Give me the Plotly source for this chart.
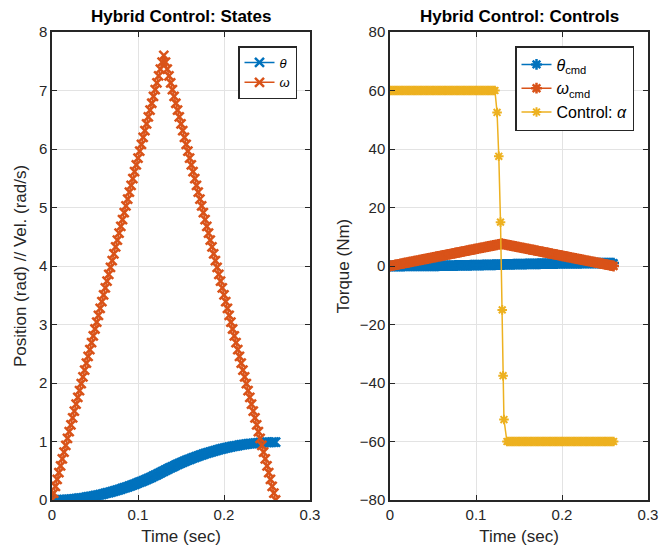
import plotly.graph_objects as go

# ---------------- data ----------------
time = [0.000, 0.002, 0.004, 0.006, 0.008, 0.010, 0.012, 0.014, 0.016, 0.018,
        0.020, 0.022, 0.024, 0.026, 0.028, 0.030, 0.032, 0.034, 0.036, 0.038,
        0.040, 0.042, 0.044, 0.046, 0.048, 0.050, 0.052, 0.054, 0.056, 0.058,
        0.060, 0.062, 0.064, 0.066, 0.068, 0.070, 0.072, 0.074, 0.076, 0.078,
        0.080, 0.082, 0.084, 0.086, 0.088, 0.090, 0.092, 0.094, 0.096, 0.098,
        0.100, 0.102, 0.104, 0.106, 0.108, 0.110, 0.112, 0.114, 0.116, 0.118,
        0.120, 0.122, 0.124, 0.126, 0.128, 0.130, 0.132, 0.134, 0.136, 0.138,
        0.140, 0.142, 0.144, 0.146, 0.148, 0.150, 0.152, 0.154, 0.156, 0.158,
        0.160, 0.162, 0.164, 0.166, 0.168, 0.170, 0.172, 0.174, 0.176, 0.178,
        0.180, 0.182, 0.184, 0.186, 0.188, 0.190, 0.192, 0.194, 0.196, 0.198,
        0.200, 0.202, 0.204, 0.206, 0.208, 0.210, 0.212, 0.214, 0.216, 0.218,
        0.220, 0.222, 0.224, 0.226, 0.228, 0.230, 0.232, 0.234, 0.236, 0.238,
        0.240, 0.242, 0.244, 0.246, 0.248, 0.250, 0.252, 0.254, 0.256, 0.258,
        0.260]

theta = [0.000, 0.000, 0.000, 0.001, 0.002, 0.003, 0.004, 0.006, 0.007, 0.009,
         0.012, 0.014, 0.017, 0.020, 0.023, 0.026, 0.030, 0.034, 0.038, 0.042,
         0.047, 0.052, 0.057, 0.062, 0.067, 0.073, 0.079, 0.085, 0.092, 0.098,
         0.105, 0.112, 0.120, 0.127, 0.135, 0.143, 0.152, 0.160, 0.169, 0.178,
         0.187, 0.197, 0.206, 0.216, 0.226, 0.237, 0.247, 0.258, 0.269, 0.281,
         0.292, 0.304, 0.316, 0.328, 0.341, 0.354, 0.367, 0.380, 0.393, 0.407,
         0.421, 0.435, 0.449, 0.464, 0.479, 0.494, 0.509, 0.524, 0.539, 0.553,
         0.567, 0.581, 0.595, 0.608, 0.621, 0.634, 0.647, 0.660, 0.672, 0.684,
         0.696, 0.707, 0.719, 0.730, 0.741, 0.751, 0.762, 0.772, 0.782, 0.791,
         0.801, 0.810, 0.819, 0.828, 0.836, 0.845, 0.853, 0.861, 0.868, 0.876,
         0.883, 0.890, 0.896, 0.903, 0.909, 0.915, 0.921, 0.926, 0.931, 0.936,
         0.941, 0.946, 0.950, 0.954, 0.958, 0.962, 0.965, 0.968, 0.971, 0.974,
         0.976, 0.979, 0.981, 0.982, 0.984, 0.985, 0.986, 0.987, 0.988, 0.988,
         0.988]

omega = [0.000, 0.117, 0.234, 0.351, 0.468, 0.585, 0.702, 0.818, 0.935, 1.052,
         1.169, 1.286, 1.403, 1.520, 1.637, 1.754, 1.871, 1.988, 2.105, 2.222,
         2.338, 2.455, 2.572, 2.689, 2.806, 2.923, 3.040, 3.157, 3.274, 3.391,
         3.508, 3.625, 3.742, 3.858, 3.975, 4.092, 4.209, 4.326, 4.443, 4.560,
         4.677, 4.794, 4.911, 5.028, 5.145, 5.262, 5.378, 5.495, 5.612, 5.729,
         5.846, 5.963, 6.080, 6.197, 6.314, 6.431, 6.548, 6.665, 6.782, 6.898,
         7.015, 7.132, 7.249, 7.366, 7.483, 7.600, 7.483, 7.366, 7.249, 7.132,
         7.015, 6.898, 6.782, 6.665, 6.548, 6.431, 6.314, 6.197, 6.080, 5.963,
         5.846, 5.729, 5.612, 5.495, 5.378, 5.262, 5.145, 5.028, 4.911, 4.794,
         4.677, 4.560, 4.443, 4.326, 4.209, 4.092, 3.975, 3.858, 3.742, 3.625,
         3.508, 3.391, 3.274, 3.157, 3.040, 2.923, 2.806, 2.689, 2.572, 2.455,
         2.338, 2.222, 2.105, 1.988, 1.871, 1.754, 1.637, 1.520, 1.403, 1.286,
         1.169, 1.052, 0.935, 0.818, 0.702, 0.585, 0.468, 0.351, 0.234, 0.117,
         0.000]

# control alpha: held at +60, switches through a few samples, then held at -60
alpha_switch_time = [0.1245, 0.1265, 0.1285, 0.1305, 0.1315, 0.1325]
alpha_switch = [52.5, 37.5, 15.0, -15.0, -37.5, -52.5]
alpha_time = time[:62] + alpha_switch_time + time[68:]
alpha = ([60, 60, 60, 60, 60, 60, 60, 60, 60, 60,
          60, 60, 60, 60, 60, 60, 60, 60, 60, 60,
          60, 60, 60, 60, 60, 60, 60, 60, 60, 60,
          60, 60, 60, 60, 60, 60, 60, 60, 60, 60,
          60, 60, 60, 60, 60, 60, 60, 60, 60, 60,
          60, 60, 60, 60, 60, 60, 60, 60, 60, 60,
          60, 60]
         + alpha_switch
         + [-60, -60, -60, -60, -60, -60, -60, -60, -60, -60,
            -60, -60, -60, -60, -60, -60, -60, -60, -60, -60,
            -60, -60, -60, -60, -60, -60, -60, -60, -60, -60,
            -60, -60, -60, -60, -60, -60, -60, -60, -60, -60,
            -60, -60, -60, -60, -60, -60, -60, -60, -60, -60,
            -60, -60, -60, -60, -60, -60, -60, -60, -60, -60,
            -60, -60, -60])

left_xticks = [0, 0.1, 0.2, 0.3]
left_xticklabels = ["0", "0.1", "0.2", "0.3"]
left_yticks = [0, 1, 2, 3, 4, 5, 6, 7, 8]
right_yticks = [-80, -60, -40, -20, 0, 20, 40, 60, 80]

# ---------------- styling ----------------
BLUE = "#0072BD"
ORANGE = "#D95319"
YELLOW = "#EDB120"
AX = "#262626"
FONT = "Liberation Sans, Arial, Helvetica, sans-serif"
W, H = 663, 554

fig = go.Figure()


def mk(symbol, color, size=9, lw=2.5):
    return dict(symbol=symbol, size=size, color=color, line=dict(width=lw, color=color))


fig.add_trace(go.Scatter(
    x=time, y=theta, mode="lines+markers", name="<i>θ</i>",
    line=dict(color=BLUE, width=1.5), marker=mk("x-thin-open", BLUE),
    xaxis="x", yaxis="y", legend="legend"))
fig.add_trace(go.Scatter(
    x=time, y=omega, mode="lines+markers", name="<i>ω</i>",
    line=dict(color=ORANGE, width=1.5), marker=mk("x-thin-open", ORANGE),
    xaxis="x", yaxis="y", legend="legend"))

fig.add_trace(go.Scatter(
    x=time, y=theta, mode="lines+markers", name="<i>θ</i><sub>cmd</sub>",
    line=dict(color=BLUE, width=1.5), marker=mk("asterisk-open", BLUE),
    xaxis="x2", yaxis="y2", legend="legend2"))
fig.add_trace(go.Scatter(
    x=time, y=omega, mode="lines+markers", name="<i>ω</i><sub>cmd</sub>",
    line=dict(color=ORANGE, width=1.5), marker=mk("asterisk-open", ORANGE),
    xaxis="x2", yaxis="y2", legend="legend2"))
fig.add_trace(go.Scatter(
    x=alpha_time, y=alpha, mode="lines+markers", name="Control: <i>α</i>",
    line=dict(color=YELLOW, width=1.5), marker=mk("asterisk-open", YELLOW, size=8, lw=2),
    xaxis="x2", yaxis="y2", legend="legend2"))

axis_common = dict(
    showline=True, linecolor=AX, linewidth=1.5, mirror="ticks",
    ticks="inside", ticklen=5, tickcolor=AX, tickwidth=1,
    showgrid=True, gridcolor="#e3e3e3", gridwidth=1, zeroline=False,
    automargin=False,
    tickfont=dict(family=FONT, size=15, color=AX),
    title_font=dict(family=FONT, size=17, color=AX),
)

ybot, ytop = 1 - 500 / H, 1 - 32 / H

fig.update_layout(
    width=W, height=H,
    margin=dict(l=0, r=0, t=0, b=0),
    paper_bgcolor="white", plot_bgcolor="white",
    font=dict(family=FONT, color=AX),
    xaxis=dict(domain=[52 / W, 310 / W], range=[0, 0.3], tickvals=left_xticks,
               ticktext=left_xticklabels, anchor="y",
               title=dict(text="Time (sec)", standoff=8), **axis_common),
    yaxis=dict(domain=[ybot, ytop], range=[0, 8], tickvals=left_yticks, anchor="x",
               title=dict(text="Position (rad) // Vel. (rad/s)", standoff=8), **axis_common),
    xaxis2=dict(domain=[390 / W, 648 / W], range=[0, 0.3], tickvals=left_xticks,
                ticktext=left_xticklabels, anchor="y2",
                title=dict(text="Time (sec)", standoff=8), **axis_common),
    yaxis2=dict(domain=[ybot, ytop], range=[-80, 80], tickvals=right_yticks, anchor="x2",
                title=dict(text="Torque (Nm)", standoff=6), **axis_common),
    legend=dict(x=297 / W, y=1 - 46 / H, xanchor="right", yanchor="top",
                bgcolor="white", bordercolor=AX, borderwidth=1.5,
                font=dict(family=FONT, size=13, color="black"),
                tracegroupgap=0, itemwidth=30),
    legend2=dict(x=634 / W, y=1 - 46 / H, xanchor="right", yanchor="top",
                 bgcolor="white", bordercolor=AX, borderwidth=1.5,
                 font=dict(family=FONT, size=16, color="black"),
                 tracegroupgap=0, itemwidth=30),
    showlegend=True,
    annotations=[
        dict(text="<b>Hybrid Control: States</b>", x=(52 + 310) / 2 / W, y=1 - 17 / H,
             xref="paper", yref="paper", xanchor="center", yanchor="middle",
             showarrow=False, font=dict(family=FONT, size=17, color="black")),
        dict(text="<b>Hybrid Control: Controls</b>", x=(390 + 648) / 2 / W, y=1 - 17 / H,
             xref="paper", yref="paper", xanchor="center", yanchor="middle",
             showarrow=False, font=dict(family=FONT, size=17, color="black")),
    ],
)

fig.write_html("out.html")
